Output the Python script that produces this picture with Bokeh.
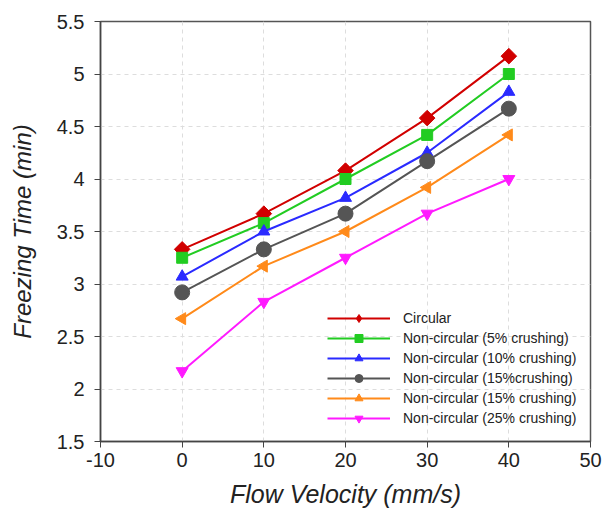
import math
from bokeh.plotting import figure
from bokeh.models import FixedTicker, Legend, LegendItem
from bokeh.embed import file_html
from bokeh.resources import INLINE

velocity = [0, 10, 20, 30, 40]
circular = [3.33, 3.67, 4.08, 4.58, 5.17]
nc_5 = [3.25, 3.58, 4.00, 4.42, 5.00]
nc_10 = [3.07, 3.50, 3.82, 4.25, 4.83]
nc_15a = [2.92, 3.33, 3.67, 4.17, 4.67]
nc_15b = [2.67, 3.17, 3.50, 3.92, 4.42]
nc_25 = [2.17, 2.83, 3.25, 3.67, 4.00]

labels = ["Circular", "Non-circular (5% crushing)", "Non-circular (10% crushing)",
          "Non-circular (15%crushing)", "Non-circular (15% crushing)",
          "Non-circular (25% crushing)"]
x_ticks = [-10, 0, 10, 20, 30, 40, 50]
y_ticks = [1.5, 2, 2.5, 3, 3.5, 4, 4.5, 5, 5.5]

series = [circular, nc_5, nc_10, nc_15a, nc_15b, nc_25]
colors = ["#d10000", "#22cc22", "#2a2aff", "#555555", "#ff8a1a", "#ff1aff"]
markers = ["square", "square", "triangle", "circle", "triangle", "inverted_triangle"]
legend_markers = ["diamond", "square", "triangle", "circle", "triangle", "inverted_triangle"]
sizes = [11, 11, 12, 15, 12, 12]
angles = [math.pi / 4, 0, 0, 0, math.pi / 2, 0]

p = figure(width=603, height=513, output_backend="svg", toolbar_location=None,
           x_range=(-10, 50), y_range=(1.5, 5.5),
           min_border_left=100, min_border_right=13, min_border_top=21, min_border_bottom=72)

items = []
for ys, c, m, lm, s, a, lab in zip(series, colors, markers, legend_markers, sizes, angles, labels):
    r1 = p.line(velocity, ys, line_color=c, line_width=2)
    r2 = p.scatter(velocity, ys, marker=m, size=s, angle=a, fill_color=c, line_color=c)
    if lm != m:
        r3 = p.scatter(velocity, ys, marker=lm, size=s, fill_color=c, line_color=c, visible=False)
        items.append(LegendItem(label=lab, renderers=[r1, r3]))
    else:
        items.append(LegendItem(label=lab, renderers=[r1, r2]))

legend = Legend(items=items, location=(227, 13), border_line_color=None,
                background_fill_alpha=0, label_text_font="Liberation Sans",
                label_text_font_size="14px", label_text_color="#222222",
                glyph_width=63, glyph_height=20, label_height=20, spacing=0,
                padding=0, margin=0, label_standoff=13)
p.add_layout(legend, "center")

for ax in (p.xaxis[0], p.yaxis[0]):
    ax.major_label_text_font = "Liberation Sans"
    ax.major_label_text_font_size = "20px"
    ax.major_label_text_color = "#222222"
    ax.axis_label_text_font = "Liberation Sans"
    ax.axis_label_text_font_style = "italic"
    ax.axis_label_text_color = "#222222"
    ax.minor_tick_line_color = None
    ax.major_tick_in = 0
    ax.major_tick_out = 6
    ax.axis_line_color = "#444444"
    ax.major_tick_line_color = "#444444"
    ax.axis_line_width = 1.5

p.xaxis.axis_label_text_font_size = "25px"
p.yaxis.axis_label_text_font_size = "24px"
p.xaxis.ticker = FixedTicker(ticks=x_ticks)
p.yaxis.ticker = FixedTicker(ticks=y_ticks)
p.xaxis.major_label_overrides = {-10: "-10"}
p.yaxis.major_label_overrides = {2: "2", 3: "3", 4: "4", 5: "5"}
p.xaxis.axis_label = "Flow Velocity (mm/s)"
p.yaxis.axis_label = "Freezing Time (min)"
p.yaxis.major_label_standoff = 10
p.xaxis.major_label_standoff = 5
p.yaxis.axis_label_standoff = 18
p.xaxis.axis_label_standoff = 10

p.xgrid.grid_line_color = "#dddddd"
p.ygrid.grid_line_color = "#dddddd"
p.xgrid.grid_line_dash = "4 4"
p.ygrid.grid_line_dash = "4 4"
p.outline_line_color = "#555555"
p.outline_line_width = 1.5

open("out.html", "w").write(file_html(p, INLINE))
